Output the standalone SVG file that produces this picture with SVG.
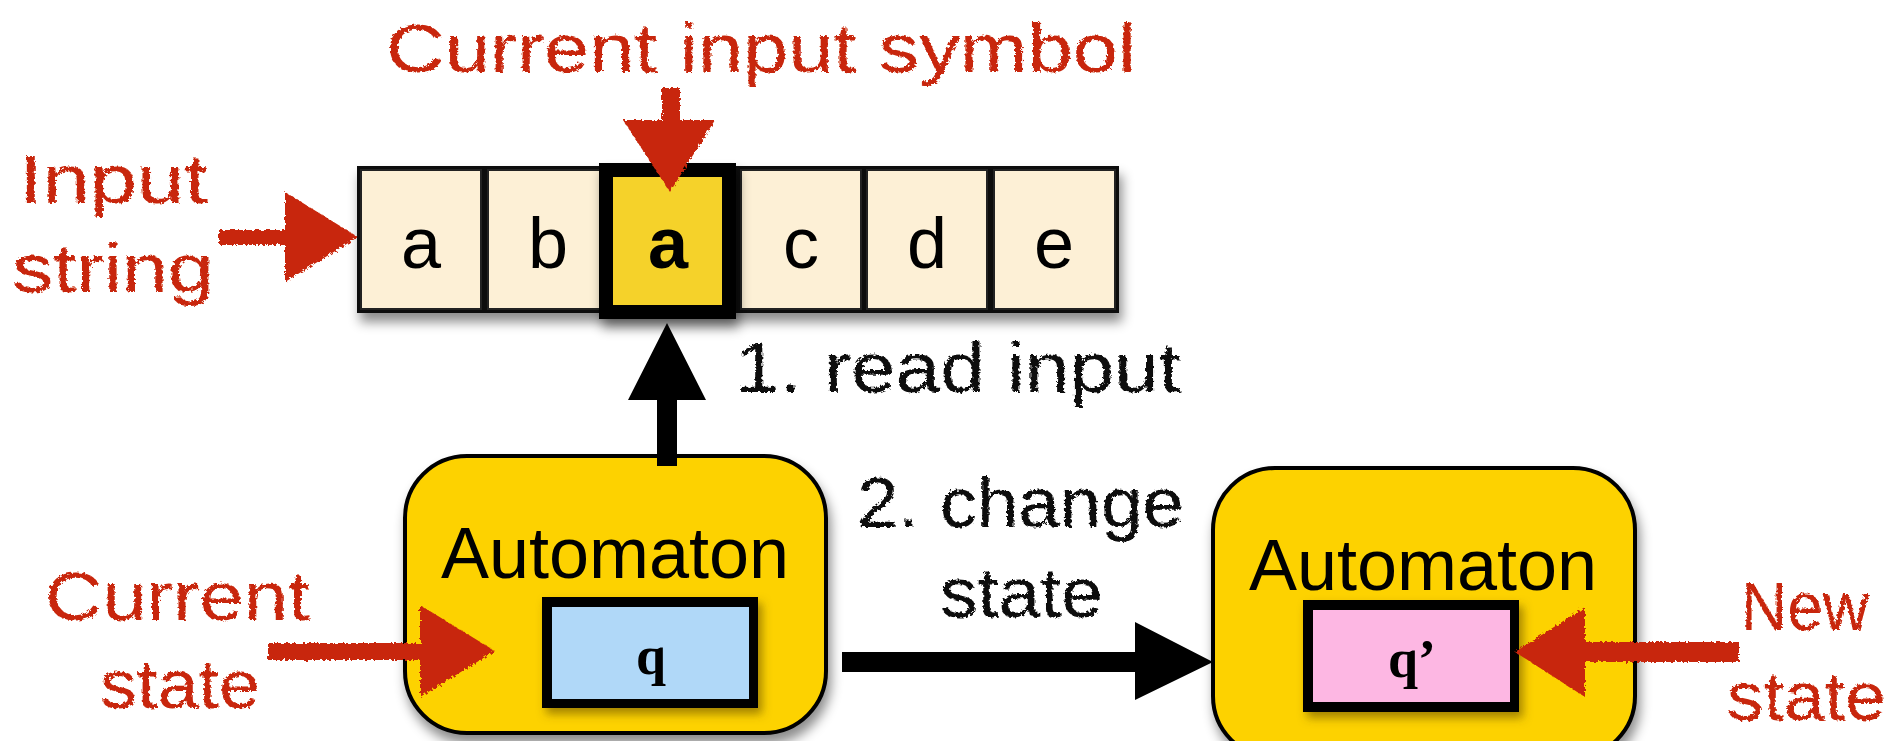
<svg xmlns="http://www.w3.org/2000/svg" width="1904" height="741" viewBox="0 0 1904 741">
<defs>
<filter id="sh" x="-20%" y="-20%" width="140%" height="150%"><feDropShadow dx="3" dy="9" stdDeviation="6" flood-color="#000" flood-opacity="0.45"/></filter>
<filter id="shs" x="-20%" y="-20%" width="140%" height="150%"><feDropShadow dx="4" dy="6" stdDeviation="5" flood-color="#5a4300" flood-opacity="0.55"/></filter>
<filter id="rough" x="-10%" y="-10%" width="120%" height="120%"><feTurbulence type="fractalNoise" baseFrequency="0.35" numOctaves="2" seed="3"/><feDisplacementMap in="SourceGraphic" scale="5"/></filter>
<style>
.cell{fill:#fdf0d6;stroke:#222;stroke-width:2}
.letter{font-family:"Liberation Sans",Arial,sans-serif;font-size:72px;fill:#000;text-anchor:middle}
.auto{font-family:"Liberation Sans",Arial,sans-serif;font-size:72px;fill:#000;text-anchor:middle}
.box{fill:#fdd200;stroke:#000;stroke-width:4}
.st{font-family:"Liberation Serif","Times New Roman",serif;font-size:54px;font-weight:bold;fill:#000;text-anchor:middle}
.red{font-family:"Liberation Sans",Arial,sans-serif;font-size:68px;fill:#c8260a;filter:url(#rough)}
.hand{font-family:"Liberation Sans",Arial,sans-serif;font-size:70px;fill:#111;filter:url(#rough)}
.redarrow{fill:#c8260a;filter:url(#rough)}
</style>
</defs>
<rect width="1904" height="741" fill="#fff"/>

<g id="tape" filter="url(#sh)">
<rect x="357" y="166" width="762" height="147" fill="#111"/>
</g>
<g id="cell-1"><rect class="cell" x="361" y="170" width="120" height="139"/><text class="letter" x="421" y="268">a</text></g>
<g id="cell-2"><rect class="cell" x="488" y="170" width="120" height="139"/><text class="letter" x="548" y="268">b</text></g>
<g id="cell-4"><rect class="cell" x="741" y="170" width="120" height="139"/><text class="letter" x="801" y="268">c</text></g>
<g id="cell-5"><rect class="cell" x="867" y="170" width="120" height="139"/><text class="letter" x="927" y="268">d</text></g>
<g id="cell-6"><rect class="cell" x="994" y="170" width="121" height="139"/><text class="letter" x="1054" y="268">e</text></g>
<g id="cell-3" filter="url(#sh)"><rect x="599" y="163" width="137" height="156" fill="#000"/><rect x="613" y="177" width="109" height="128" fill="#f5d22a"/><text class="letter" x="668" y="268" font-weight="bold">a</text></g>

<g id="automaton-current">
<rect class="box" x="405" y="456" width="421" height="277" rx="62" filter="url(#sh)"/>
<text class="auto" x="615" y="578">Automaton</text>
<g filter="url(#shs)"><rect x="542" y="597" width="216" height="111" fill="#000"/></g>
<rect x="552" y="607" width="197" height="92" fill="#b0d8f8"/>
<text class="st" x="651" y="674">q</text>
</g>

<g id="automaton-new">
<rect class="box" x="1213" y="468" width="422" height="290" rx="62" filter="url(#sh)"/>
<text class="auto" x="1423" y="590">Automaton</text>
<g filter="url(#shs)"><rect x="1303" y="600" width="216" height="112" fill="#000"/></g>
<rect x="1313" y="610" width="197" height="92" fill="#fdb7e3"/>
<text class="st" x="1412" y="677">q’</text>
</g>

<g id="connectors">
<path d="M657 466 V400 H628 L667 323 L706 400 H677 V466 Z" fill="#000"/>
<path d="M842 652 H1135 V622 L1213 662 L1135 700 V672 H842 Z" fill="#000"/>
<path class="redarrow" d="M662 88 H680 V120 H715 L670 192 L623 120 H662 Z"/>
<path class="redarrow" d="M219 230 H285 V192 L358 237 L285 282 V245 H219 Z"/>
<path class="redarrow" d="M268 643 H420 V605 L495 651 L420 697 V660 H268 Z"/>
<path class="redarrow" d="M1739 642 H1585 V607 L1515 652 L1585 697 V662 H1739 Z"/>
</g>

<g id="labels">
<text class="red" x="386" y="72" textLength="750" lengthAdjust="spacingAndGlyphs">Current input symbol</text>
<text class="red" x="19" y="203" textLength="189" lengthAdjust="spacingAndGlyphs">Input</text>
<text class="red" x="12" y="292" textLength="202" lengthAdjust="spacingAndGlyphs">string</text>
<text class="red" x="45" y="620" textLength="265" lengthAdjust="spacingAndGlyphs">Current</text>
<text class="red" x="100" y="708" textLength="160" lengthAdjust="spacingAndGlyphs">state</text>
<text class="red" x="1741" y="630" textLength="128" lengthAdjust="spacingAndGlyphs">New</text>
<text class="red" x="1727" y="720" textLength="159" lengthAdjust="spacingAndGlyphs">state</text>
<text class="hand" x="735" y="392" textLength="446" lengthAdjust="spacingAndGlyphs">1. read input</text>
<text class="hand" x="857" y="527" textLength="327" lengthAdjust="spacingAndGlyphs">2. change</text>
<text class="hand" x="940" y="617" textLength="163" lengthAdjust="spacingAndGlyphs">state</text>
</g>
</svg>
